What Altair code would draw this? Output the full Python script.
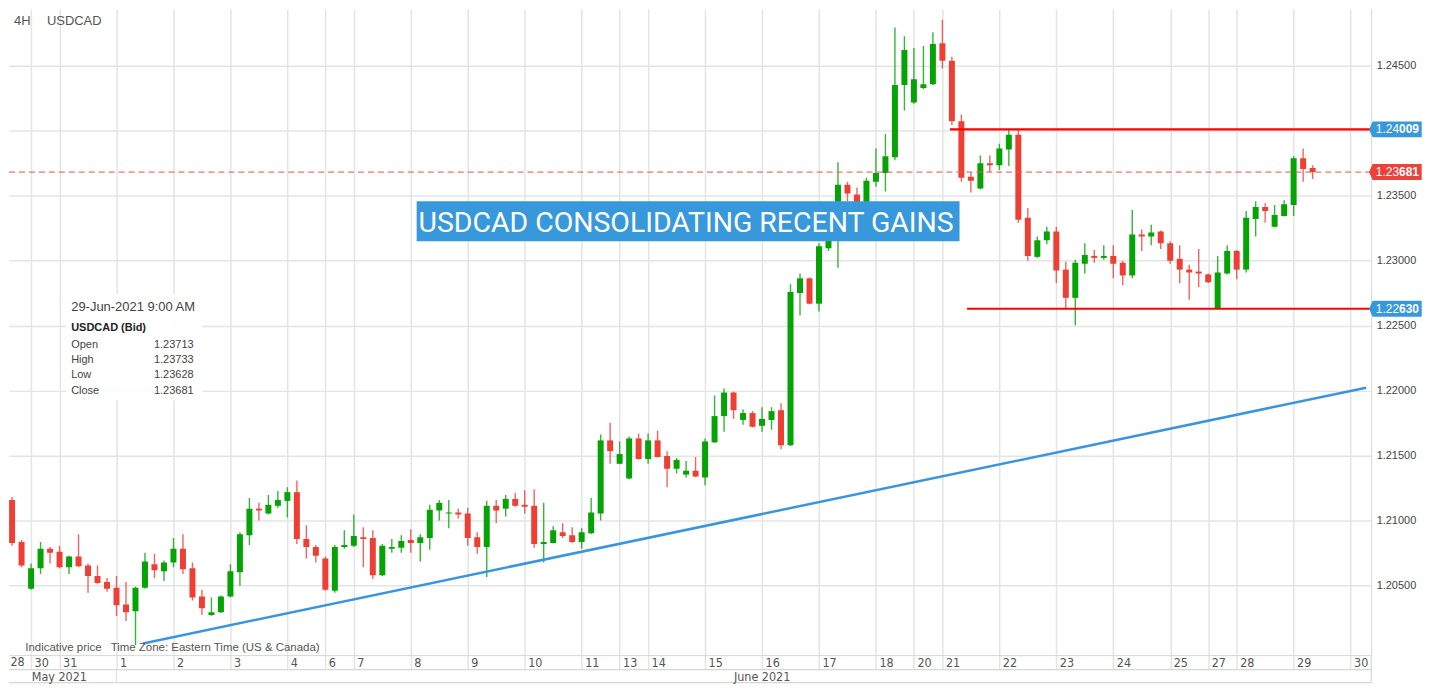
import json
import altair as alt
import pandas as pd

# ---------------- data ----------------
bar_idx = list(range(138))
open_ = [1.21160, 1.20837, 1.20477, 1.20635, 1.20784, 1.20762, 1.20642, 1.20725, 1.20657, 1.20575,
         1.20530, 1.20485, 1.20357, 1.20305, 1.20485, 1.20665, 1.20612, 1.20680, 1.20784, 1.20635,
         1.20417, 1.20275, 1.20297, 1.20417, 1.20605, 1.20889, 1.21093, 1.21055, 1.21115, 1.21153,
         1.21220, 1.20859, 1.20799, 1.20710, 1.20462, 1.20799, 1.20807, 1.20874, 1.20867, 1.20582,
         1.20784, 1.20792, 1.20852, 1.20829, 1.20867, 1.21078, 1.21055, 1.21063, 1.21055, 1.20874,
         1.20799, 1.21115, 1.21093, 1.21168, 1.21123, 1.21115, 1.20822, 1.20829, 1.20912, 1.20889,
         1.20837, 1.20904, 1.21055, 1.21618, 1.21438, 1.21325, 1.21633, 1.21475, 1.21618, 1.21498,
         1.21400, 1.21355, 1.21385, 1.21333, 1.21603, 1.21805, 1.21986, 1.21775, 1.21828, 1.21730,
         1.21775, 1.21850, 1.21580, 1.22751, 1.22864, 1.22669, 1.23096, 1.23321, 1.23584, 1.23509,
         1.23396, 1.23607, 1.23674, 1.23794, 1.24350, 1.24215, 1.24327, 1.24357, 1.24672, 1.24537,
         1.24072, 1.23644, 1.23554, 1.23749, 1.23734, 1.23854, 1.23967, 1.23329, 1.23029, 1.23156,
         1.23224, 1.22931, 1.22714, 1.22976, 1.23036, 1.23021, 1.23036, 1.22984, 1.22886, 1.23201,
         1.23186, 1.23224, 1.23134, 1.23014, 1.22931, 1.22916, 1.22894, 1.22631, 1.22901, 1.23074,
         1.22931, 1.23321, 1.23412, 1.23261, 1.23344, 1.23427, 1.23787, 1.23713]
high = [1.21183, 1.20852, 1.20672, 1.20837, 1.20799, 1.20807, 1.20732, 1.20897, 1.20672, 1.20657,
        1.20560, 1.20575, 1.20530, 1.20492, 1.20755, 1.20747, 1.20695, 1.20867, 1.20897, 1.20680,
        1.20470, 1.20410, 1.20425, 1.20665, 1.20912, 1.21175, 1.21138, 1.21198, 1.21228, 1.21258,
        1.21310, 1.20965, 1.20814, 1.20725, 1.20814, 1.20927, 1.21048, 1.20950, 1.20927, 1.20822,
        1.20859, 1.20889, 1.20935, 1.20897, 1.21123, 1.21160, 1.21160, 1.21093, 1.21100, 1.20912,
        1.21153, 1.21160, 1.21198, 1.21213, 1.21235, 1.21243, 1.21138, 1.20957, 1.20980, 1.20950,
        1.20942, 1.21175, 1.21663, 1.21753, 1.21610, 1.21648, 1.21670, 1.21670, 1.21693, 1.21535,
        1.21483, 1.21460, 1.21490, 1.21633, 1.21963, 1.22016, 1.21993, 1.21858, 1.21843, 1.21873,
        1.21873, 1.21903, 1.22819, 1.22901, 1.22871, 1.23134, 1.23344, 1.23757, 1.23607, 1.23562,
        1.23637, 1.23862, 1.23974, 1.24792, 1.24725, 1.24635, 1.24650, 1.24755, 1.24852, 1.24567,
        1.24124, 1.23682, 1.23809, 1.23809, 1.23899, 1.24012, 1.24004, 1.23404, 1.23186, 1.23261,
        1.23261, 1.22991, 1.23006, 1.23134, 1.23081, 1.23119, 1.23119, 1.22999, 1.23389, 1.23239,
        1.23276, 1.23231, 1.23149, 1.23119, 1.22969, 1.23089, 1.22901, 1.23036, 1.23119, 1.23081,
        1.23382, 1.23457, 1.23442, 1.23427, 1.23464, 1.23802, 1.23862, 1.23733]
low = [1.20807, 1.20642, 1.20470, 1.20590, 1.20672, 1.20635, 1.20590, 1.20642, 1.20447, 1.20515,
       1.20455, 1.20267, 1.20230, 1.20042, 1.20477, 1.20560, 1.20537, 1.20642, 1.20590, 1.20387,
       1.20275, 1.20270, 1.20290, 1.20410, 1.20500, 1.20814, 1.21002, 1.21048, 1.21100, 1.21025,
       1.20822, 1.20710, 1.20680, 1.20462, 1.20447, 1.20784, 1.20799, 1.20642, 1.20552, 1.20575,
       1.20755, 1.20755, 1.20755, 1.20687, 1.20777, 1.21002, 1.20942, 1.21017, 1.20807, 1.20747,
       1.20567, 1.20980, 1.21032, 1.21108, 1.21055, 1.20792, 1.20680, 1.20825, 1.20867, 1.20829,
       1.20784, 1.20897, 1.21002, 1.21438, 1.21435, 1.21320, 1.21470, 1.21438, 1.21485, 1.21258,
       1.21363, 1.21333, 1.21335, 1.21273, 1.21598, 1.21685, 1.21783, 1.21738, 1.21718, 1.21685,
       1.21700, 1.21550, 1.21575, 1.22578, 1.22664, 1.22608, 1.23074, 1.22946, 1.23457, 1.23359,
       1.23374, 1.23569, 1.23532, 1.23772, 1.24154, 1.24207, 1.24320, 1.24350, 1.24477, 1.24042,
       1.23607, 1.23524, 1.23547, 1.23682, 1.23697, 1.23727, 1.23291, 1.22999, 1.23021, 1.23126,
       1.22826, 1.22631, 1.22503, 1.22901, 1.22984, 1.23006, 1.22864, 1.22811, 1.22864, 1.23074,
       1.23119, 1.23089, 1.22976, 1.22826, 1.22699, 1.22796, 1.22826, 1.22626, 1.22894, 1.22856,
       1.22909, 1.23186, 1.23291, 1.23254, 1.23340, 1.23344, 1.23607, 1.23628]
close = [1.20829, 1.20657, 1.20635, 1.20784, 1.20755, 1.20642, 1.20725, 1.20650, 1.20575, 1.20522,
         1.20477, 1.20350, 1.20297, 1.20485, 1.20687, 1.20620, 1.20680, 1.20784, 1.20627, 1.20410,
         1.20327, 1.20297, 1.20417, 1.20612, 1.20897, 1.21093, 1.21078, 1.21123, 1.21160, 1.21220,
         1.20859, 1.20799, 1.20732, 1.20470, 1.20799, 1.20814, 1.20882, 1.20859, 1.20582, 1.20807,
         1.20799, 1.20844, 1.20829, 1.20874, 1.21085, 1.21138, 1.21063, 1.21048, 1.20867, 1.20799,
         1.21115, 1.21078, 1.21168, 1.21115, 1.21108, 1.20822, 1.20837, 1.20927, 1.20882, 1.20837,
         1.20912, 1.21063, 1.21618, 1.21535, 1.21513, 1.21633, 1.21475, 1.21618, 1.21490, 1.21400,
         1.21468, 1.21385, 1.21340, 1.21610, 1.21805, 1.21986, 1.21850, 1.21828, 1.21723, 1.21783,
         1.21843, 1.21580, 1.22759, 1.22864, 1.22669, 1.23111, 1.23321, 1.23584, 1.23517, 1.23396,
         1.23614, 1.23674, 1.23802, 1.24350, 1.24620, 1.24395, 1.24357, 1.24665, 1.24537, 1.24072,
         1.23637, 1.23614, 1.23749, 1.23734, 1.23862, 1.23967, 1.23314, 1.23036, 1.23156, 1.23224,
         1.22924, 1.22714, 1.22984, 1.23044, 1.23021, 1.23036, 1.22976, 1.22886, 1.23201, 1.23186,
         1.23216, 1.23134, 1.22999, 1.22931, 1.22909, 1.22901, 1.22834, 1.22909, 1.23074, 1.22931,
         1.23329, 1.23412, 1.23382, 1.23351, 1.23434, 1.23787, 1.23704, 1.23681]

day_tick_idx = [2, 5, 11, 17, 23, 29, 33, 36, 42, 48, 54, 60, 64, 67, 73, 79, 85, 91, 95, 98,
                104, 110, 116, 122, 126, 129, 135, 141]
day_tick_labels = ["30", "31", "1", "2", "3", "4", "6", "7", "8", "9", "10", "11", "13", "14",
                   "15", "16", "17", "18", "20", "21", "22", "23", "24", "25", "27", "28", "29", "30"]
first_day_label = "28"
month_labels = ["May 2021", "June 2021"]
month_break_idx = [11]
price_ticks = [1.205, 1.210, 1.215, 1.220, 1.225, 1.230, 1.235, 1.240, 1.245]
hidden_tick = 1.240   # its label sits under the 1.24009 price tag

level_prices = [1.24009, 1.22630]
level_start_idx = [98.8, 100.6]
last_price = 1.23681
trend_idx = [13.8, 142.64]
trend_price = [1.20057, 1.22023]

title_text = "USDCAD CONSOLIDATING RECENT GAINS"
top_left = ["4H", "USDCAD"]
footer_texts = ["Indicative price", "Time Zone: Eastern Time (US & Canada)"]
info_header = "29-Jun-2021 9:00 AM"
info_symbol = "USDCAD (Bid)"
info_names = ["Open", "High", "Low", "Close"]
info_values = ["1.23713", "1.23733", "1.23628", "1.23681"]
level_tag_head = ["1.24", "1.22"]
level_tag_tail = ["009", "630"]
last_tag_head = ["1.23"]
last_tag_tail = ["681"]

# ---------------- style / layout ----------------
W, H = 1366, 648
SX, SY = W / 1380.0, H / 662.0
X_DOMAIN = [0.2, 142.64]
Y_DOMAIN = [1.19967, 1.24935]
UP, DOWN = "#05a305", "#ee3f35"
BLUE = "#3898dc"
TAGRED = "#e9433b"
GRID = "#e4e4e4"
LINE = "#d6d6d6"
TXT = "#555555"
SANS = "Liberation Sans, Arial, sans-serif"
NARROW = "Liberation Sans Narrow, Arial Narrow, DejaVu Sans Condensed, sans-serif"


def px(v):
    return v * SX


def py(v):
    return v * SY


xs = alt.Scale(domain=X_DOMAIN, nice=False, zero=False)
ys = alt.Scale(domain=Y_DOMAIN, nice=False, zero=False)

label_expr = "%s[indexof(%s, datum.value)]" % (json.dumps(day_tick_labels), json.dumps(day_tick_idx))
y_label_expr = "abs(datum.value - %r) < 1e-7 ? '' : format(datum.value, '.5f')" % hidden_tick
x_axis = alt.Axis(values=day_tick_idx, labelExpr=label_expr, grid=True, gridColor=GRID, gridWidth=1.5,
                  ticks=True, tickSize=14, tickColor=GRID, tickWidth=1.5, domain=True, domainColor=LINE,
                  labelAlign="left", labelBaseline="middle", labelPadding=-7, labelOffset=3,
                  labelFont=NARROW, labelFontSize=12.5, labelColor=TXT, labelOverlap=False,
                  labelFlush=False, labelBound=False, title=None)
y_axis = alt.Axis(orient="right", values=price_ticks, labelExpr=y_label_expr, grid=True, gridColor=GRID,
                  gridWidth=1.5, ticks=False, domain=True, domainColor=LINE, labelPadding=5,
                  labelFont=SANS, labelFontSize=11, labelColor="#444", title=None,
                  labelOverlap=False, labelFlush=False)


def X(field):
    return alt.X(field, scale=xs, axis=x_axis)


def Y(field):
    return alt.Y(field, scale=ys, axis=y_axis)


candles = pd.DataFrame({"idx": bar_idx, "open": open_, "high": high, "low": low, "close": close})
candles["dir"] = ["up" if c >= o else "down" for o, c in zip(open_, close)]
color_enc = alt.Color("dir:N", scale=alt.Scale(domain=["up", "down"], range=[UP, DOWN]), legend=None)

wicks = alt.Chart(candles).mark_rule(strokeWidth=1.4, opacity=0.8, clip=True).encode(
    x=X("idx:Q"), y=Y("low:Q"), y2="high:Q", color=color_enc)
bodies = alt.Chart(candles).mark_bar(size=6, clip=True).encode(
    x=X("idx:Q"), y=Y("open:Q"), y2="close:Q", color=color_enc)

trend = alt.Chart(pd.DataFrame({"idx": trend_idx, "price": trend_price})).mark_line(
    color="#3a95dd", strokeWidth=2.5, clip=True).encode(x=X("idx:Q"), y=Y("price:Q"))

levels = alt.Chart(pd.DataFrame({"x0": level_start_idx, "price": level_prices})).mark_rule(
    color="#ff0000", strokeWidth=2.2).encode(x=X("x0:Q"), x2=alt.value(W), y=Y("price:Q"))

last_line = alt.Chart(pd.DataFrame({"price": [last_price]})).mark_rule(
    color="#ea5a52", strokeWidth=1.2, strokeDash=[6, 4], opacity=0.85).encode(
    x=alt.value(0), x2=alt.value(W), y=Y("price:Q"))

one = pd.DataFrame({"t": [title_text]})
title_box = alt.Chart(one).mark_rect(color=BLUE).encode(
    x=alt.value(px(413)), x2=alt.value(px(963)), y=alt.value(py(197)), y2=alt.value(py(238)))
title_txt = alt.Chart(one).mark_text(font="Roboto", fontSize=28.5, color="white", align="center",
                                     baseline="middle").encode(
    x=alt.value(px(686)), y=alt.value(py(219)), text="t:N")

info_box = alt.Chart(one).mark_rect(color="white", opacity=0.88).encode(
    x=alt.value(px(58)), x2=alt.value(px(196)), y=alt.value(py(292)), y2=alt.value(py(401)))
info_head = alt.Chart(pd.DataFrame({"t": [info_header]})).mark_text(
    font=SANS, fontSize=13, color="#444", align="left", baseline="middle").encode(
    x=alt.value(px(63)), y=alt.value(py(305)), text="t:N")
info_sym = alt.Chart(pd.DataFrame({"t": [info_symbol]})).mark_text(
    font=SANS, fontSize=11, fontWeight="bold", color="#222", align="left", baseline="middle").encode(
    x=alt.value(px(63)), y=alt.value(py(327)), text="t:N")
info_df = pd.DataFrame({"name": info_names, "val": info_values, "row": list(range(4))})
info_rows = [344, 360, 375.5, 391]
info_name_layers = []
for r, yy in enumerate(info_rows):
    sub = info_df[info_df.row == r]
    info_name_layers.append(alt.Chart(sub).mark_text(
        font=SANS, fontSize=11, color="#444", align="left", baseline="middle").encode(
        x=alt.value(px(63)), y=alt.value(py(yy)), text="name:N"))
    info_name_layers.append(alt.Chart(sub).mark_text(
        font=SANS, fontSize=11, color="#444", align="right", baseline="middle").encode(
        x=alt.value(px(187)), y=alt.value(py(yy)), text="val:N"))


def tag_layers(prices, heads, tails, fill):
    d = pd.DataFrame({"price": prices, "head": heads, "tail": tails})
    shape = alt.Chart(d).mark_point(
        shape="M-0.45,0L0,-1L6.15,-1L6.15,1L0,1Z", size=256, filled=True, opacity=1,
        strokeWidth=0, color=fill).encode(x=alt.value(W + 1.5), y=Y("price:Q"))
    head_t = alt.Chart(d).mark_text(font=SANS, fontSize=12, color="white", align="right",
                                    baseline="middle").encode(
        x=alt.value(W + 28), y=Y("price:Q"), text="head:N")
    tail_t = alt.Chart(d).mark_text(font=SANS, fontSize=12, fontWeight="bold", color="white",
                                    align="left", baseline="middle").encode(
        x=alt.value(W + 28), y=Y("price:Q"), text="tail:N")
    return [shape, head_t, tail_t]


tags = tag_layers(level_prices, level_tag_head, level_tag_tail, BLUE) + \
    tag_layers([last_price], last_tag_head, last_tag_tail, TAGRED)

tl = pd.DataFrame({"t": top_left, "pos": [0, 1]})
tl_txt = [alt.Chart(tl[tl.pos == i]).mark_text(font=SANS, fontSize=13, color=TXT, align="left",
                                               baseline="middle").encode(
    x=alt.value(xx), y=alt.value(12.5), text="t:N") for i, xx in enumerate([5, 38])]

ft = pd.DataFrame({"t": footer_texts, "pos": [0, 1]})
ft_txt = [alt.Chart(ft[ft.pos == i]).mark_text(font=SANS, fontSize=11.5, color=TXT, align="left",
                                               baseline="middle").encode(
    x=alt.value(px(xx)), y=alt.value(H - 7), text="t:N") for i, xx in enumerate([16.5, 103])]

row_lines = [alt.Chart(one).mark_rule(color=LINE, strokeWidth=1.2).encode(
    x=alt.value(0), x2=alt.value(W), y=alt.value(yy)) for yy in (H + 14.5, H + 27.5)]
right_ext = alt.Chart(one).mark_rule(color=LINE, strokeWidth=1.2).encode(
    x=alt.value(W), y=alt.value(H), y2=alt.value(H + 28))
month_sep = alt.Chart(pd.DataFrame({"idx": month_break_idx})).mark_rule(color=GRID, strokeWidth=1.5).encode(
    x=X("idx:Q"), y=alt.value(H + 14.5), y2=alt.value(H + 27.5))
first_lab = alt.Chart(pd.DataFrame({"t": [first_day_label]})).mark_text(
    font=NARROW, fontSize=12.5, color=TXT, align="left", baseline="middle").encode(
    x=alt.value(1.5), y=alt.value(H + 7), text="t:N")
ml = pd.DataFrame({"t": month_labels, "pos": [0, 1]})
month_txt = [alt.Chart(ml[ml.pos == i]).mark_text(font=NARROW, fontSize=12.5, color=TXT, align="center",
                                                  baseline="middle").encode(
    x=alt.value(px(xx)), y=alt.value(H + 21.5), text="t:N") for i, xx in enumerate([51, 763])]

chart = alt.layer(
    wicks, bodies, trend, levels, last_line,
    title_box, title_txt, info_box, info_head, info_sym, *info_name_layers,
    *tags, *tl_txt, *ft_txt,
    *row_lines, right_ext, month_sep, first_lab, *month_txt,
).properties(width=W, height=H, padding=0).configure_view(strokeWidth=0)

chart.save("out.html", embed_options={"renderer": "svg", "actions": False})
